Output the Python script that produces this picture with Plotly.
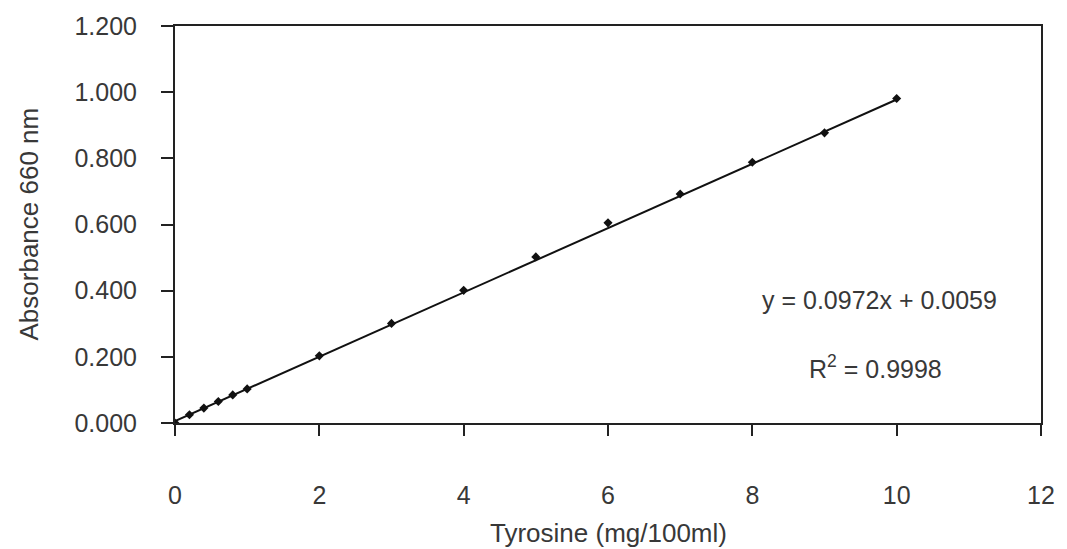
import plotly.graph_objects as go

# Data
tyrosine = [0, 0.2, 0.4, 0.6, 0.8, 1, 2, 3, 4, 5, 6, 7, 8, 9, 10]
absorbance = [0.000, 0.025, 0.045, 0.065, 0.085, 0.103, 0.203, 0.301, 0.401, 0.502,
              0.605, 0.692, 0.788, 0.877, 0.981]
slope = 0.0972
intercept = 0.0059
r2 = 0.9998
x_ticks = [0, 2, 4, 6, 8, 10, 12]
y_ticks = [0, 0.2, 0.4, 0.6, 0.8, 1.0, 1.2]

fit_x = [0, 10]
fit_y = [slope * v + intercept for v in fit_x]

FONT = "Liberation Sans, Arial, sans-serif"
TXT = "#383838"

fig = go.Figure()
fig.add_trace(go.Scatter(x=fit_x, y=fit_y, mode="lines",
                         line=dict(color="#111111", width=2), hoverinfo="skip"))
fig.add_trace(go.Scatter(x=tyrosine, y=absorbance, mode="markers",
                         marker=dict(symbol="diamond", size=7, color="#111111")))

fig.update_layout(
    width=1067, height=549,
    margin=dict(l=175, r=20, t=24, b=126),
    paper_bgcolor="white", plot_bgcolor="white",
    showlegend=False,
    font=dict(family=FONT, size=25, color=TXT),
)
fig.update_xaxes(
    range=[0, 12], tickvals=x_ticks, ticktext=[str(v) for v in x_ticks],
    showgrid=False, zeroline=False,
    showline=True, linecolor="#222222", linewidth=2, mirror=True,
    ticks="outside", ticklen=11, tickwidth=1.5, tickcolor="#222222",
    ticklabelstandoff=38,
    tickfont=dict(family=FONT, size=25, color=TXT),
)
fig.update_yaxes(
    range=[0, 1.2], tickvals=y_ticks, ticktext=[f"{v:.3f}" for v in y_ticks],
    showgrid=False, zeroline=False,
    showline=True, linecolor="#222222", linewidth=2, mirror=True,
    ticks="outside", ticklen=12, tickwidth=1.5, tickcolor="#222222",
    ticklabelstandoff=19,
    tickfont=dict(family=FONT, size=25, color=TXT),
)

fig.add_annotation(text="Tyrosine (mg/100ml)", xref="paper", yref="paper",
                   x=0.5, y=0, yshift=-110, xanchor="center", yanchor="middle",
                   showarrow=False, font=dict(family=FONT, size=26, color=TXT))
fig.add_annotation(text="Absorbance 660 nm", xref="paper", yref="paper",
                   x=0, y=0.5, xshift=-147, xanchor="center", yanchor="middle",
                   textangle=-90, showarrow=False,
                   font=dict(family=FONT, size=26, color=TXT))
fig.add_annotation(text=f"y = {slope}x + {intercept}", xref="x", yref="y",
                   x=9.76, y=0.372, xanchor="center", yanchor="middle",
                   showarrow=False, font=dict(family=FONT, size=25, color=TXT))
fig.add_annotation(text=f"R<sup>2</sup> = {r2}", xref="x", yref="y",
                   x=9.71, y=0.168, xanchor="center", yanchor="middle",
                   showarrow=False, font=dict(family=FONT, size=25, color=TXT))

fig.write_html("out.html")
